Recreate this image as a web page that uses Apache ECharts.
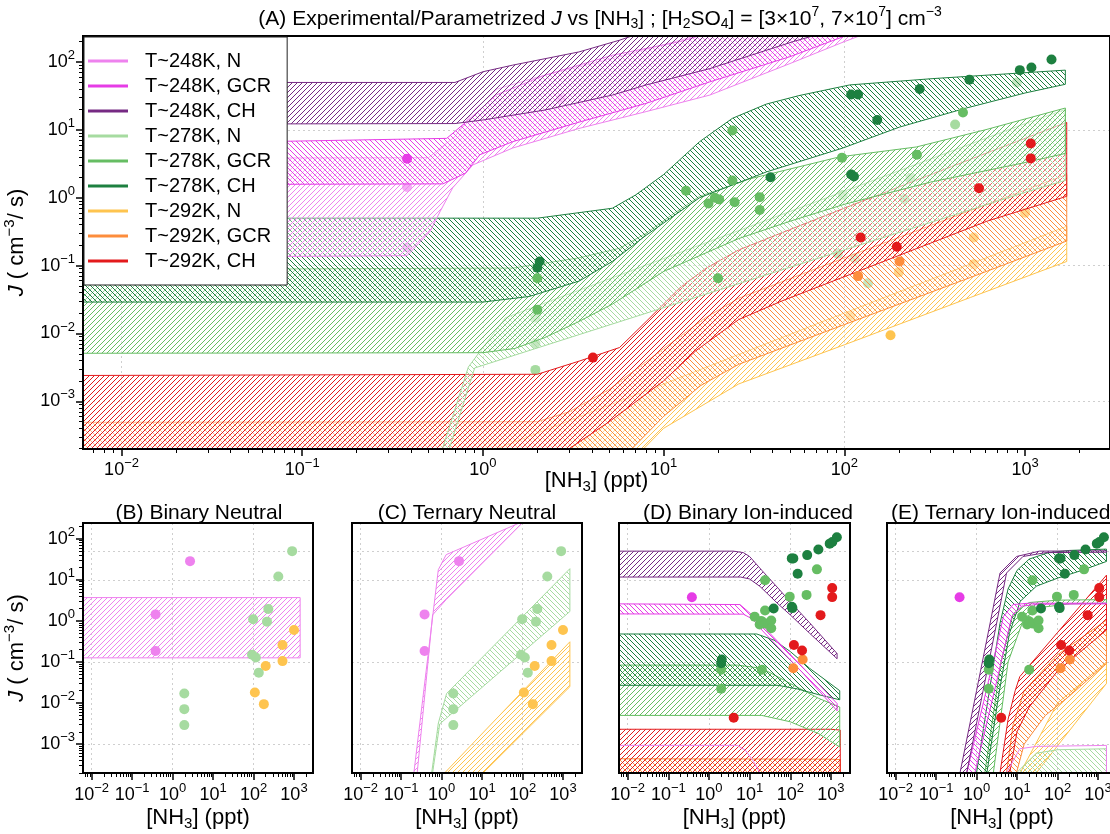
<!DOCTYPE html>
<html><head><meta charset="utf-8">
<script src="https://cdn.jsdelivr.net/npm/echarts@6/dist/echarts.min.js"></script>
<style>html,body{margin:0;padding:0;background:#fff}#c{width:1110px;height:834px}</style>
</head><body><div id="c"></div>
<script>
const FONT = "'Liberation Sans', Arial, Helvetica, sans-serif";
const xMin = 0.00612, xMax = 2950, yMin = 1.98e-4, yMax = 242;
const majorX = [0.01, 0.1, 1, 10, 100, 1000];
const majorY = [0.001, 0.01, 0.1, 1, 10, 100];
const gridXv = [0.01, 1, 100];
const gridYA = [0.001, 0.1, 10];
const gridYs = [0.001, 0.1, 10, 50];

const groupNames = ['T~248K, N','T~248K, GCR','T~248K, CH','T~278K, N','T~278K, GCR','T~278K, CH','T~292K, N','T~292K, GCR','T~292K, CH'];
const groupColors = ['#EE82EE','#E63CE6','#762A83','#A6DBA0','#66BD63','#1D8040','#FEC44F','#FD8D3C','#E31A1C'];
const groupHatch = ['f','b','f','b','f','b','f','b','f'];

// measured points [NH3 ppt, J]
const pN248 = [[0.38,1.44],[0.38,0.185],[2.7,28.5]];
const pGCR248 = [[0.38,3.75]];
const pCH248 = [];
const pN278 = [[1.95,0.017],[1.95,0.0071],[1.95,0.0029],[98,1.1],[92,0.15],[114,0.128],[135,0.055],[232,1.95],[215,0.96],[410,12],[900,50]];
const pGCR278 = [[24,9.8],[24,1.8],[453,18],[97,3.9],[252,4.3],[17.7,0.82],[19.2,1.0],[20.3,0.94],[24.7,0.86],[34,1.02],[34,0.66],[13.3,1.27],[2.0,0.065],[2.0,0.0224],[20,0.065]];
const pCH278 = [[2.06,0.115],[2.0,0.093],[109,33.3],[119,33.3],[261,40],[492,55],[935,76],[1084,83],[1400,109],[152,14],[39,2.0],[109,2.2],[113,2.05]];
const pN292 = [[108,0.018],[180,0.0094],[200,0.08],[520,0.26],[520,0.105],[1000,0.6]];
const pGCR292 = [[119,0.07],[202,0.115]];
const pCH292 = [[1075,6.3],[1075,3.8],[556,1.38],[123,0.26],[195,0.19],[4.06,0.0044]];
const points = [pN248,pGCR248,pCH248,pN278,pGCR278,pCH278,pN292,pGCR292,pCH292];

// ---- Panel A bands (upper / lower edges) ----
const A_N248_up = [[0.0061,3.8],[0.5,3.9],[0.7,8],[0.9,20],[1.2,40],[2,60],[5,110],[10,180],[20,300]];
const A_N248_lo = [[0.0061,0.13],[0.38,0.14],[0.51,0.32],[0.58,0.63],[0.68,1.4],[0.88,3.05],[1.46,5.4],[3.4,10.5],[8,18.6],[18,32.6],[50,95],[100,200],[200,400]];
const A_GCR248_up = [[0.0061,6.0],[0.63,7.5],[0.81,13.2],[1.19,33],[2.2,64],[5.2,126],[12.3,200],[30,400]];
const A_GCR248_lo = [[0.0061,1.55],[0.6,1.6],[0.8,2.3],[0.96,4.3],[1.46,6.7],[3.4,13],[8,24.6],[18,51],[50,120],[100,240],[200,450]];
const A_CH248_up = [[0.0061,50],[0.7,50],[1,72],[1.46,90],[3.4,141],[5.7,210],[10,350]];
const A_CH248_lo = [[0.0061,12.1],[0.7,12.4],[1,14],[2.2,19.6],[5.2,32.6],[8,46],[18,80],[52,200],[100,330]];
const A_N278_up = [[0.55,1e-4],[0.83,0.0032],[1.33,0.017],[10,0.127],[100,1.25],[1000,12.4],[1670,20]];
const A_N278_lo = [[0.6,1e-4],[0.9,0.0031],[10,0.024],[100,0.17],[1000,1.2],[1670,1.8]];
const A_GCR278_up = [[0.0061,0.087],[1.47,0.092],[3.4,0.13],[5.7,0.18],[8,0.3],[11,0.55],[15.8,1.05],[30,1.9],[94,4.0],[250,5.6],[600,10],[1670,21]];
const A_GCR278_lo = [[0.0061,0.0051],[1,0.0052],[1.5,0.006],[2.2,0.0087],[3.4,0.015],[5.2,0.027],[10,0.082],[26,0.25],[50,0.45],[100,0.8],[300,1.7],[1000,3.3],[1670,4.5]];
const A_CH278_up = [[0.0061,0.5],[2,0.5],[5.2,0.7],[7,1.1],[10,2.2],[15.8,6.7],[24,14.8],[37,24],[56,32],[107,46],[309,57],[1670,76]];
const A_CH278_lo = [[0.0061,0.029],[1,0.029],[1.8,0.035],[3.4,0.059],[5.2,0.115],[8,0.28],[15.8,1.0],[37,2.4],[98,5.4],[202,11],[473,21],[1000,35],[1670,47]];
const A_N292_up = [[1.2,2e-4],[10,0.0018],[26,0.0049],[100,0.02],[500,0.106],[1700,0.38]];
const A_N292_lo = [[6,1e-4],[10,4e-4],[26,0.0018],[100,0.0068],[500,0.034],[1700,0.115]];
const A_GCR292_up = [[0.0061,4.9e-4],[2,5e-4],[3,7e-4],[5,0.0015],[10,0.006],[17,0.017],[26,0.033],[100,0.13],[500,0.65],[1700,2.2]];
const A_GCR292_lo = [[0.0061,5e-5],[4,8e-5],[6,1.5e-4],[10,6e-4],[16,0.0017],[26,0.0035],[100,0.0135],[500,0.067],[1700,0.23]];
const A_CH292_up = [[0.0061,0.0024],[2,0.0025],[3.4,0.0039],[5.7,0.0062],[8,0.015],[12.3,0.047],[17,0.09],[26,0.17],[50,0.34],[120,0.85],[500,3.7],[1700,12.9]];
const A_CH292_lo = [[0.0061,1.2e-4],[2,1.3e-4],[3,2e-4],[5,5e-4],[10,0.002],[15,0.0055],[26,0.016],[45,0.03],[123,0.085],[614,0.45],[1700,1.05]];

// ---- Panel B (binary neutral) ----
const B_N248_up = [[0.0061,3.7],[1420,3.7]];
const B_N248_lo = [[0.0061,0.126],[1420,0.126]];
const B_N292_up = [[0.0061,2.0e-4],[1420,2.0e-4]];
const B_N292_lo = [[0.0061,1e-5],[1420,1e-5]];

// ---- Panel C (ternary neutral) ----
const C_N248_up = [[0.207,2e-4],[0.83,17.6],[1.3,41],[86,245],[1500,1000]];
const C_N248_lo = [[0.25,2e-4],[0.6,1.4],[1.3,3.3],[100,245],[1500,3000]];
const C_N278_up = [[0.57,2e-4],[0.83,0.0032],[1.33,0.017],[1480,18.7]];
const C_N278_lo = [[0.6,2e-4],[0.9,0.0031],[1480,1.7]];
const C_N292_up = [[1.2,2e-4],[1480,0.31]];
const C_N292_lo = [[10.7,2e-4],[1480,0.025]];
const C_base_up = [[0.0061,2.0e-4],[1480,2.0e-4]];
const C_base_lo = [[0.0061,1e-5],[1480,1e-5]];

// ---- Panel D (binary ion-induced) ----
const D_CH248_up = [[0.0061,50],[4,50],[7,46],[10,37],[20,17],[50,6.3],[100,2.9],[300,0.9],[1420,0.16]];
const D_CH248_lo = [[0.0061,11.7],[6,11.7],[10,10.5],[18,6.9],[50,2.6],[100,1.4],[300,0.5],[1420,0.12]];
const D_GCR248_up = [[0.0061,2.6],[5.8,2.5],[12.4,1.3],[50,0.31],[200,0.075],[1420,0.0097]];
const D_GCR248_lo = [[0.0061,1.48],[7,1.46],[12,1.1],[20,0.6],[50,0.23],[200,0.055],[1420,0.0065]];
const D_N248_up = [[0.0061,9.3e-4],[5,9.3e-4],[8,7e-4],[12,4e-4],[18,2e-4],[25,1e-4]];
const D_N248_lo = [[0.0061,1e-5],[25,1e-5]];
const D_CH278_up = [[0.0061,0.48],[15,0.48],[40,0.34],[100,0.18],[300,0.07],[1650,0.02]];
const D_CH278_lo = [[0.0061,0.027],[50,0.027],[150,0.022],[500,0.016],[1650,0.012]];
const D_GCR278_up = [[0.0061,0.084],[5,0.084],[20,0.07],[100,0.03],[500,0.013],[1650,0.008]];
const D_GCR278_lo = [[0.0061,0.005],[20,0.005],[100,0.0035],[500,0.0018],[1650,8.5e-4]];
const D_CH292_up = [[0.0061,0.0023],[1000,0.0023],[1700,0.0022]];
const D_CH292_lo = [[0.0061,5e-5],[1700,5e-5]];
const D_GCR292_up = [[0.0061,4.4e-4],[1000,4.3e-4],[1700,4.2e-4]];
const D_GCR292_lo = [[0.0061,5e-5],[1700,5e-5]];

// ---- Panel E (ternary ion-induced) ----
const E_CH248_up = [[0.39,2e-4],[1,0.02],[2,0.6],[3.8,14.7],[9.7,37],[36,50],[1620,51]];
const E_CH248_lo = [[0.57,2e-4],[1.45,0.02],[2.9,0.6],[5.5,14.7],[14,37],[52,46],[1620,47]];
const E_GCR248_up = [[0.57,2e-4],[1.5,0.011],[3,0.2],[4.6,1.27],[8,2.5],[20,2.7],[1620,2.7]];
const E_GCR248_lo = [[0.91,2e-4],[2.4,0.011],[4.8,0.2],[7.4,1.27],[13,2.3],[40,2.55],[1620,2.6]];
const E_N248_up = [[5.5,2e-4],[11.7,7.7e-4],[30,8.8e-4],[1620,9.3e-4]];
const E_N248_lo = [[5.5,1e-5],[1620,1e-5]];
const E_N278_up = [[9.7,2e-4],[30,6e-4],[100,7.3e-4],[1620,7.7e-4]];
const E_N278_lo = [[9.7,1e-5],[1620,1e-5]];
const E_CH278_up = [[1.0,2e-4],[2,0.016],[3.8,0.88],[6,6],[10,17],[20,32],[60,46],[200,52],[1620,56]];
const E_CH278_lo = [[1.8,2e-4],[3.5,0.015],[6.5,0.5],[12,3],[30,7],[100,11],[400,17],[1620,28]];
const E_GCR278_up = [[1.6,2e-4],[4,0.1],[8,1.5],[20,2.8],[100,3.2],[1620,3.3]];
const E_GCR278_lo = [[2.6,2e-4],[6,0.1],[15,1.2],[50,2.2],[200,2.6],[1620,2.7]];
const E_N292_up = [[12,2e-4],[100,0.01],[1620,0.1]];
const E_N292_lo = [[30,2e-4],[1620,0.03]];
const E_CH292_up = [[3.8,2e-4],[6,0.004],[9,0.02],[11.7,0.044],[100,0.52],[1620,13]];
const E_CH292_lo = [[6.6,2e-4],[10,0.002],[20,0.008],[100,0.06],[1620,0.6]];
const E_GCR292_up = [[5.5,2e-4],[8,0.003],[15,0.02],[100,0.15],[1620,1.05]];
const E_GCR292_lo = [[9.7,2e-4],[15,0.001],[50,0.005],[200,0.015],[1620,0.093]];

// panel -> list of [groupIndex, upper, lower, filled]
const panelBands = [
  [[6,A_N292_up,A_N292_lo,1],[7,A_GCR292_up,A_GCR292_lo,1],[8,A_CH292_up,A_CH292_lo,1],
   [3,A_N278_up,A_N278_lo,1],[4,A_GCR278_up,A_GCR278_lo,1],[5,A_CH278_up,A_CH278_lo,1],
   [0,A_N248_up,A_N248_lo,1],[1,A_GCR248_up,A_GCR248_lo,1],[2,A_CH248_up,A_CH248_lo,1]],
  [[6,B_N292_up,B_N292_lo,1],[0,B_N248_up,B_N248_lo,1]],
  [[6,C_base_up,C_base_lo,1],[6,C_N292_up,C_N292_lo,1],[3,C_N278_up,C_N278_lo,1],[0,C_N248_up,C_N248_lo,1]],
  [[7,D_GCR292_up,D_GCR292_lo,1],[8,D_CH292_up,D_CH292_lo,1],[0,D_N248_up,D_N248_lo,0],
   [4,D_GCR278_up,D_GCR278_lo,1],[5,D_CH278_up,D_CH278_lo,1],
   [1,D_GCR248_up,D_GCR248_lo,1],[2,D_CH248_up,D_CH248_lo,1]],
  [[6,E_N292_up,E_N292_lo,1],[7,E_GCR292_up,E_GCR292_lo,1],[8,E_CH292_up,E_CH292_lo,1],
   [3,E_N278_up,E_N278_lo,1],[0,E_N248_up,E_N248_lo,0],
   [4,E_GCR278_up,E_GCR278_lo,1],[5,E_CH278_up,E_CH278_lo,1],
   [1,E_GCR248_up,E_GCR248_lo,1],[2,E_CH248_up,E_CH248_lo,1]]
];
// which point groups appear in each panel
const panelPoints = [[0,1,2,3,4,5,6,7,8],[0,3,6],[0,3,6],[1,2,4,5,7,8],[1,2,4,5,7,8]];

const panelTitles = [
  '(A) Experimental/Parametrized {i|J} vs [NH{d|3}] ; [H{d|2}SO{d|4}] = [3\u00d710{s|7}, 7\u00d710{s|7}] cm{s|\u22123}',
  '(B) Binary Neutral','(C) Ternary Neutral','(D) Binary Ion-induced','(E) Ternary Ion-induced'
];

const grids = [
  {left:83, top:36, width:1027, height:413},
  {left:83, top:523, width:230, height:250},
  {left:352, top:523, width:230, height:250},
  {left:619, top:523, width:231, height:250},
  {left:887, top:523, width:230, height:250}
];

function minorOf(majors, lo, hi){
  const out = [];
  [majors[0]/10].concat(majors).forEach(m => { for (let k=2;k<=9;k++){ const v = +(m*k).toPrecision(3); if (v>=lo && v<=hi) out.push(v);} });
  return out;
}
const minorX = minorOf(majorX, xMin, xMax);
const minorY = minorOf(majorY, yMin, yMax);

const patCache = {};
function hatch(color, dir, bg){
  const key = color+dir+bg;
  if (patCache[key]) return patCache[key];
  const s = 5;
  const cv = document.createElement('canvas'); cv.width = s; cv.height = s;
  const ctx = cv.getContext('2d');
  if (bg){ ctx.fillStyle = bg; ctx.fillRect(0,0,s,s); }
  ctx.strokeStyle = color; ctx.lineWidth = 1;
  ctx.beginPath();
  if (dir === 'f'){ ctx.moveTo(0,s); ctx.lineTo(s,0); ctx.moveTo(-1,1); ctx.lineTo(1,-1); ctx.moveTo(s-1,s+1); ctx.lineTo(s+1,s-1); }
  else { ctx.moveTo(0,0); ctx.lineTo(s,s); ctx.moveTo(-1,s-1); ctx.lineTo(1,s+1); ctx.moveTo(s-1,-1); ctx.lineTo(s+1,1); }
  ctx.stroke();
  return (patCache[key] = {image: cv, repeat: 'repeat'});
}

const tickRich = {
  b:{fontSize:18, fontFamily:FONT, color:'#000'},
  s:{fontSize:13, fontFamily:FONT, color:'#000', padding:[0,0,13,0]}
};
function fmtPow(v){ const e = Math.round(Math.log10(v)); return '{b|10}{s|' + (e<0 ? '\u2212'+(-e) : String(e)) + '}'; }

const xAxes = [], yAxes = [];
grids.forEach((g, gi) => {
  const main = gi === 0;
  const showY = gi <= 1;
  const base = {type:'log', logBase:10, gridIndex:gi, min:xMin, max:xMax, z:6};
  xAxes.push(Object.assign({}, base, {position:'bottom',
    axisLine:{show:true, onZero:false, lineStyle:{color:'#000', width:2}},
    axisTick:{show:true, length:7, customValues:majorX, lineStyle:{color:'#000', width:1.5}},
    axisLabel:{show:true, customValues:majorX, formatter:fmtPow, rich:tickRich, margin: main ? 8 : 9},
    splitLine:{show:false},
    name:'[NH{d|3}] (ppt)', nameLocation:'middle', nameGap: main ? 19 : 32, nameMoveOverlap:false,
    nameTextStyle:{fontSize:22, fontFamily:FONT, color:'#000', rich:{d:{fontSize:15, fontFamily:FONT, padding:[11,0,0,0]}}}
  }));
  xAxes.push(Object.assign({}, base, {position:'bottom', axisLine:{show:false},
    axisTick:{show:true, length:4, customValues:minorX, lineStyle:{color:'#000', width:1}},
    axisLabel:{show:false}, splitLine:{show:false}}));
  xAxes.push(Object.assign({}, base, {position:'bottom', z:0, axisLine:{show:false},
    axisTick:{show:false, customValues:gridXv}, axisLabel:{show:false},
    splitLine:{show:true, lineStyle:{color:'#cfcfcf', width:1, type:[2,3]}}}));

  const yb = {type:'log', logBase:10, gridIndex:gi, min:yMin, max:yMax, z:6};
  yAxes.push(Object.assign({}, yb, {position:'left',
    axisLine:{show:true, onZero:false, lineStyle:{color:'#000', width:2}},
    axisTick:{show:showY, length:7, customValues:majorY, lineStyle:{color:'#000', width:1.5}},
    axisLabel:{show:showY, customValues:majorY, formatter:fmtPow, rich:tickRich, margin:8},
    splitLine:{show:false},
    name: showY ? '{i|J} ( cm{s|\u22123}/ s)' : '', nameLocation:'middle', nameGap:51, nameMoveOverlap:false,
    nameTextStyle:{fontSize:22, fontFamily:FONT, color:'#000', rich:{i:{fontStyle:'italic', fontSize:22, fontFamily:FONT}, s:{fontSize:15, fontFamily:FONT, padding:[0,0,15,0]}}}
  }));
  yAxes.push(Object.assign({}, yb, {position:'left', axisLine:{show:false},
    axisTick:{show:showY, length:4, customValues:minorY, lineStyle:{color:'#000', width:1}},
    axisLabel:{show:false}, splitLine:{show:false}}));
  yAxes.push(Object.assign({}, yb, {position:'left', z:0, axisLine:{show:false},
    axisTick:{show:false, customValues: main ? gridYA : gridYs}, axisLabel:{show:false},
    splitLine:{show:true, lineStyle:{color:'#cfcfcf', width:1, type:[2,3]}}}));
});

const series = [];
panelBands.forEach((bands, pi) => {
  bands.forEach(([gIdx, up, lo, filled]) => {
    const pts = up.concat(lo.slice().reverse());
    const color = groupColors[gIdx];
    series.push({
      type:'custom', name:groupNames[gIdx], xAxisIndex:pi*3, yAxisIndex:pi*3, clip:true, silent:true, z:2,
      itemStyle:{color:color}, data:[pts[0]],
      renderItem: function(params, api){
        const p = pts.map(d => api.coord(d));
        const fill = filled ? hatch(color, groupHatch[gIdx], pi===0 ? 'rgba(255,255,255,0.35)' : null) : null;
        return {type:'polygon', shape:{points:p}, style:{fill:fill, stroke:color, lineWidth:1}};
      }
    });
  });
});
panelPoints.forEach((groups, pi) => {
  groups.forEach(gIdx => {
    if (!points[gIdx].length) return;
    const isN = gIdx % 3 === 0;
    series.push({
      type:'scatter', name:groupNames[gIdx], xAxisIndex:pi*3, yAxisIndex:pi*3, silent:true,
      z: (pi === 0 && isN) ? 1 : 4, symbolSize:10, data:points[gIdx],
      itemStyle:{color:groupColors[gIdx], opacity:1}
    });
  });
});

const titleRich = {
  i:{fontStyle:'italic', fontSize:21, fontFamily:FONT, fill:'#000'},
  d:{fontSize:14, fontFamily:FONT, padding:[10,0,0,0]},
  s:{fontSize:14, fontFamily:FONT, padding:[0,0,14,0]}
};
const titlePos = [[600,19,'center',21],[199,513,'center',21],[467,513,'center',21],[748,513,'center',21],[891,513,'left',21]];
const graphics = panelTitles.map((t, i) => ({
  type:'text', x:titlePos[i][0], y:titlePos[i][1], z:20,
  style:{text:t, rich:titleRich, fontSize:titlePos[i][3], fontFamily:FONT, fill:'#000', align:titlePos[i][2], verticalAlign:'middle'}
}));

const chart = echarts.init(document.getElementById('c'), null, {renderer:'canvas'});
chart.setOption({
  animation:false, backgroundColor:'#fff',
  grid: grids.map(g => Object.assign({}, g, {show:true, borderColor:'#000', borderWidth:2, backgroundColor:'transparent', containLabel:false, outerBoundsMode:'none', z:5})),
  xAxis: xAxes, yAxis: yAxes,
  legend:{show:true, orient:'vertical', left:84, top:37, itemWidth:40, itemHeight:3, itemGap:5,
    padding:[14,16,14,4], backgroundColor:'#fff', borderColor:'#222', borderWidth:1, icon:'rect', selectedMode:false, z:10,
    textStyle:{fontSize:20, fontFamily:FONT, color:'#000', lineHeight:20, padding:[0,0,0,12]},
    data: groupNames.map((n,i) => ({name:n, itemStyle:{color:groupColors[i]}}))},
  graphic: graphics,
  series: series
});
</script></body></html>
